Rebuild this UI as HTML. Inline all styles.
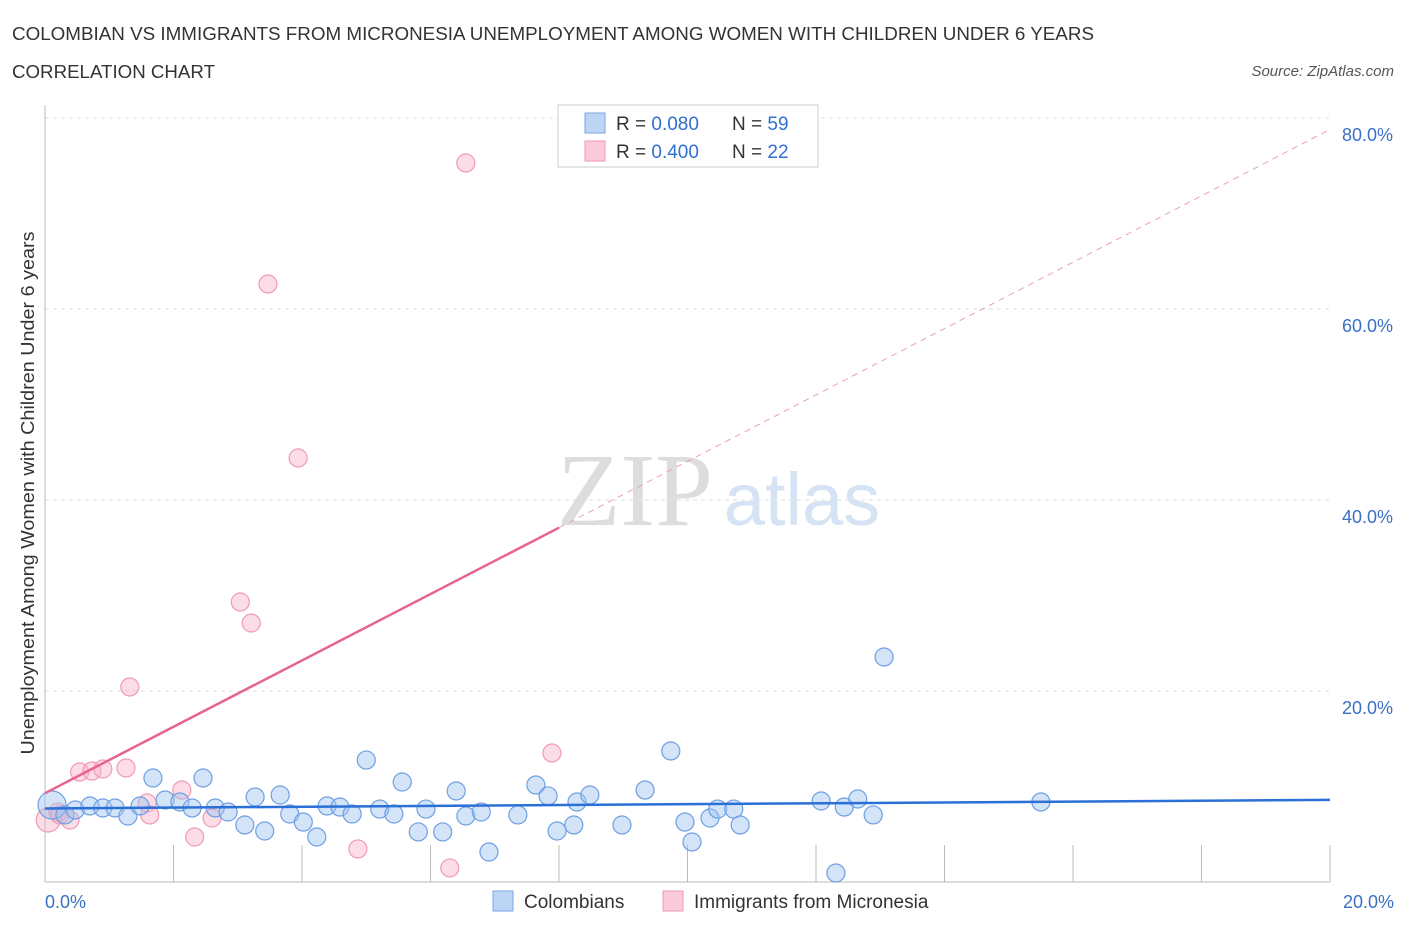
<!DOCTYPE html>
<html><head><meta charset="utf-8"><style>
body{margin:0;background:#fff;font-family:"Liberation Sans",sans-serif;}
svg{display:block}
</style></head><body>
<svg width="1406" height="930" viewBox="0 0 1406 930">
<text x="12" y="40" font-size="18" fill="#333" textLength="1082" lengthAdjust="spacingAndGlyphs">COLOMBIAN VS IMMIGRANTS FROM MICRONESIA UNEMPLOYMENT AMONG WOMEN WITH CHILDREN UNDER 6 YEARS</text>
<text x="12" y="78" font-size="18" fill="#333" textLength="203" lengthAdjust="spacingAndGlyphs">CORRELATION CHART</text>
<text x="1394" y="76" font-size="15" fill="#555" font-style="italic" text-anchor="end">Source: ZipAtlas.com</text>
<g id="grid"></g>
<text x="635" y="525" font-size="104" fill="#ddd" text-anchor="middle" font-family="Liberation Serif,serif">ZIP</text>
<text x="802" y="525" font-size="74" fill="#d5e3f5" text-anchor="middle">atlas</text>
<g id="axes"></g>
<g id="marks"></g>
<g id="trends"></g>
<text x="34" y="493" font-size="18" fill="#333" text-anchor="middle" textLength="523" lengthAdjust="spacingAndGlyphs" transform="rotate(-90 34 493)">Unemployment Among Women with Children Under 6 years</text>
<text x="45" y="908" font-size="18" fill="#3a70c8">0.0%</text>
<text x="1394" y="908" font-size="18" fill="#3a70c8" text-anchor="end">20.0%</text>
<g>
<rect x="558" y="105" width="260" height="62" fill="#fff" stroke="#ccc"/>
<rect x="585" y="113" width="20" height="20" fill="#bcd5f5" stroke="#7aa6e6"/>
<rect x="585" y="141" width="20" height="20" fill="#fbcad8" stroke="#ef9ab5"/>
<text x="616" y="130" font-size="19" fill="#333">R = <tspan fill="#2f6fd0">0.080</tspan></text>
<text x="732" y="130" font-size="19" fill="#333">N = <tspan fill="#2f6fd0">59</tspan></text>
<text x="616" y="158" font-size="19" fill="#333">R = <tspan fill="#2f6fd0">0.400</tspan></text>
<text x="732" y="158" font-size="19" fill="#333">N = <tspan fill="#2f6fd0">22</tspan></text>
</g>
<g>
<rect x="493" y="891" width="20" height="20" fill="#bcd5f5" stroke="#7aa6e6"/>
<text x="524" y="908" font-size="19" fill="#333">Colombians</text>
<rect x="663" y="891" width="20" height="20" fill="#fbcad8" stroke="#ef9ab5"/>
<text x="694" y="908" font-size="19" fill="#333">Immigrants from Micronesia</text>
</g>
</svg>
<script>
const blueX=[0.11,0.31,0.47,0.70,0.90,1.09,1.29,1.48,1.68,1.87,2.10,2.29,2.46,2.65,2.85,3.11,3.27,3.42,3.66,3.81,4.02,4.23,4.39,4.59,4.78,5.00,5.21,5.43,5.56,5.81,5.93,6.19,6.40,6.55,6.79,6.91,7.36,7.64,7.83,7.97,8.23,8.28,8.48,8.98,9.34,9.74,9.96,10.07,10.35,10.47,10.72,10.82,12.08,12.31,12.44,12.65,12.89,13.06,15.50];
const blueY=[8.06,7.02,7.54,7.96,7.75,7.75,6.91,7.96,10.89,8.59,8.38,7.75,10.89,7.75,7.33,5.97,8.90,5.34,9.11,7.12,6.28,4.71,7.96,7.85,7.12,12.77,7.64,7.12,10.47,5.24,7.64,5.24,9.53,6.91,7.33,3.14,7.02,10.16,9.01,5.34,5.97,8.38,9.11,5.97,9.63,13.72,6.28,4.19,6.70,7.64,7.64,5.97,8.48,0.94,7.85,8.69,7.02,23.56,8.38];
const pinkX=[0.05,0.20,0.23,0.39,0.54,0.73,0.90,1.26,1.32,1.59,1.63,2.13,2.33,2.60,3.04,3.21,3.47,3.94,4.87,6.30,6.55,7.89];
const pinkY=[6.49,7.33,7.02,6.49,11.52,11.62,11.83,11.94,20.42,8.27,7.02,9.63,4.71,6.70,29.32,27.12,62.62,44.40,3.46,1.47,75.29,13.51];
const yTicks=[20,40,60,80];
const yTickLabels=["20.0%","40.0%","60.0%","80.0%"];
const xTicks=[0,2,4,6,8,10,12,14,16,18,20];
const blueTrend=[7.7,8.6];
const pinkTrend=[9.3,3.475];
const X0=45,X1=1330,Y0=882,PXY=9.55;
const sx=v=>X0+v*(X1-X0)/20;
const sy=v=>Y0-v*PXY;
const NS="http://www.w3.org/2000/svg";
function mk(t,a,p){const e=document.createElementNS(NS,t);for(const k in a)e.setAttribute(k,a[k]);p.appendChild(e);return e;}
const grid=document.getElementById('grid'),axes=document.getElementById('axes'),marks=document.getElementById('marks'),trends=document.getElementById('trends');
yTicks.forEach((t,i)=>{
 const l=mk('line',{x1:X0,x2:X1,y1:sy(t),y2:sy(t),stroke:'#ddd','stroke-dasharray':'4,4'},grid);
 
 
 const tx=mk('text',{x:1393,y:sy(t)+23,'font-size':18,fill:'#3a70c8','text-anchor':'end'},axes);
 tx.textContent=yTickLabels[i];
 
 
});
const ax=mk('line',{x1:X0,x2:X0,y1:105,y2:Y0,stroke:'#bbb'},axes);


const bx=mk('line',{x1:X0,x2:X1,y1:Y0,y2:Y0,stroke:'#bbb'},axes);


xTicks.forEach(t=>{
 const l=mk('line',{x1:sx(t),x2:sx(t),y1:845,y2:Y0,stroke:'#bbb'},axes);
 
 
});
pinkX.forEach((x,i)=>{
 const c=mk('circle',{cx:sx(x),cy:sy(pinkY[i]),r:i==0?12:9,fill:'rgba(249,180,200,0.45)',stroke:'#ef9ab5','stroke-width':1.2},marks);
 
 
});
blueX.forEach((x,i)=>{
 const c=mk('circle',{cx:sx(x),cy:sy(blueY[i]),r:i==0?14:9,fill:'rgba(160,196,240,0.45)',stroke:'#6d9fe3','stroke-width':1.2},marks);
 
 
});
const bt=mk('line',{x1:sx(0),y1:sy(blueTrend[0]),x2:sx(20),y2:sy(blueTrend[1]),stroke:'#2a70d6','stroke-width':2.5},trends);


const pe=8;
const ps=mk('line',{x1:sx(0),y1:sy(pinkTrend[0]),x2:sx(pe),y2:sy(pinkTrend[0]+pinkTrend[1]*pe),stroke:'#e8638f','stroke-width':2.5},trends);


const pd=mk('line',{x1:sx(pe),y1:sy(pinkTrend[0]+pinkTrend[1]*pe),x2:sx(20),y2:sy(pinkTrend[0]+pinkTrend[1]*20),stroke:'#eaa0b8','stroke-width':1,'stroke-dasharray':'6,5'},trends);


</script>
</body></html>
